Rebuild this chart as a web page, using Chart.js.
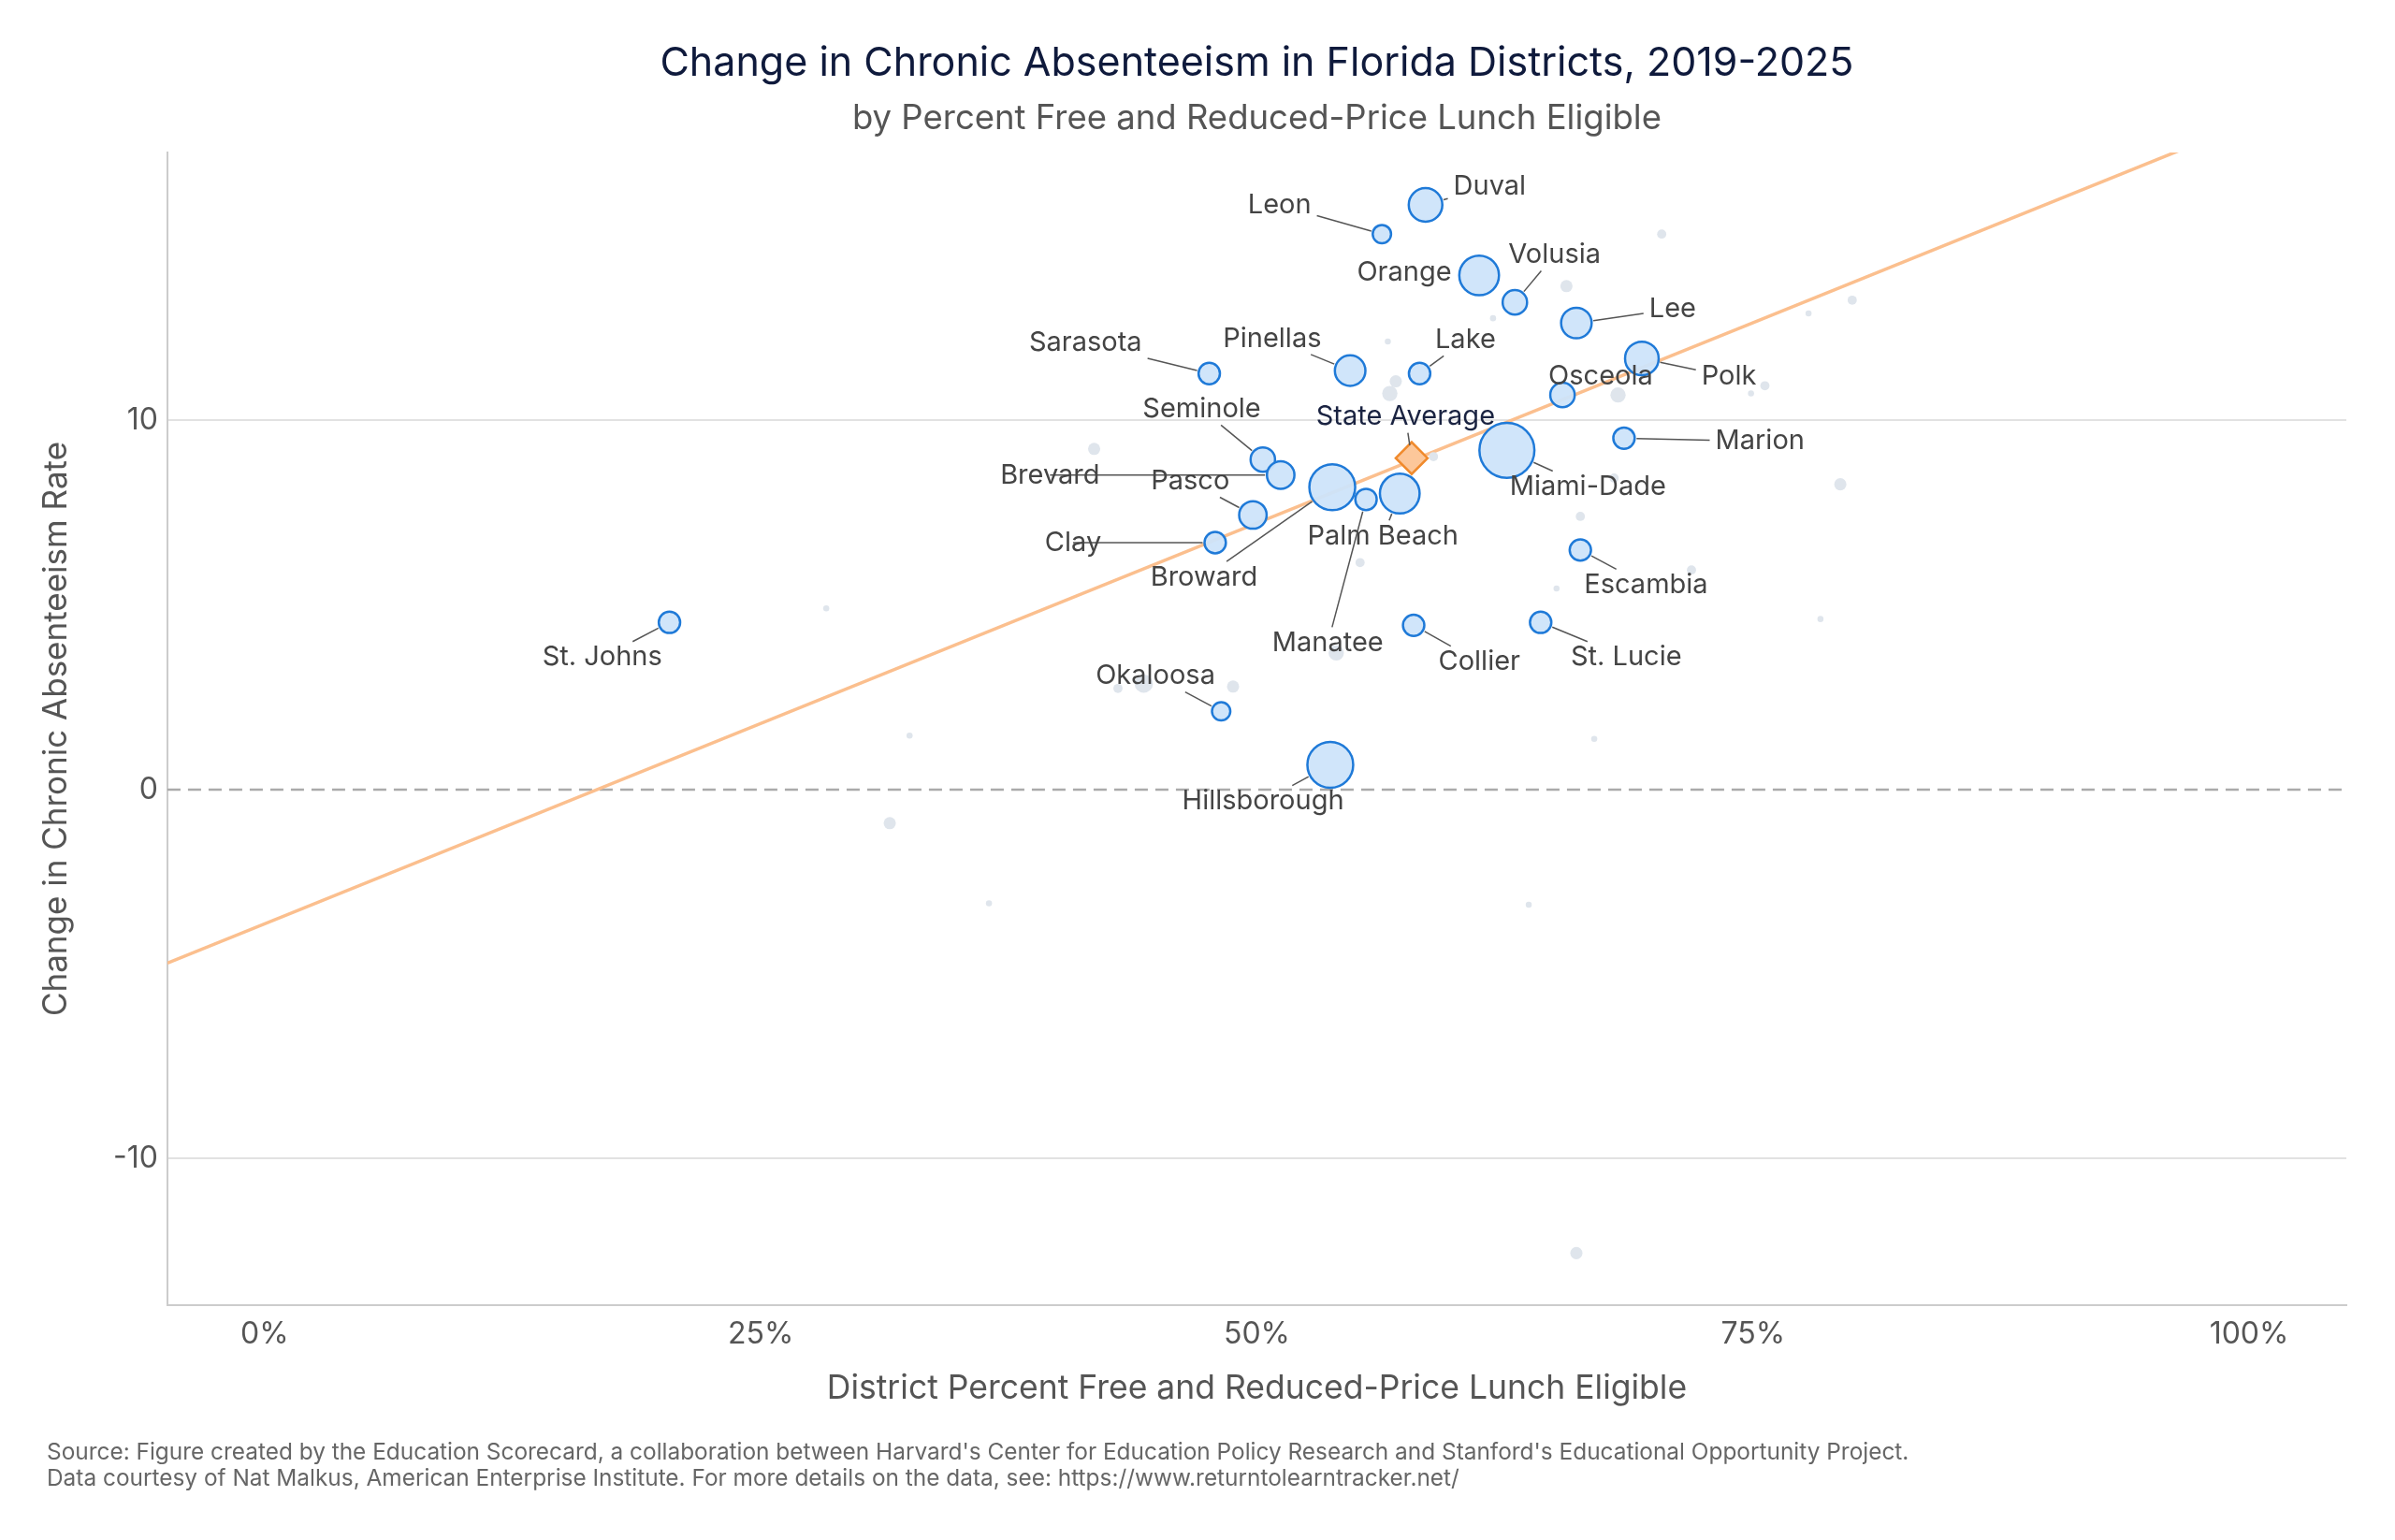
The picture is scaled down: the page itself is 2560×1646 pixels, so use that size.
<!DOCTYPE html>
<html><head><meta charset="utf-8">
<script src="https://cdn.jsdelivr.net/npm/chart.js@4/dist/chart.umd.min.js"></script>
<style>html,body{margin:0;padding:0;background:#fff}#w{width:2560px;height:1646px}</style>
</head><body><div id="w"><canvas id="c"></canvas></div>
<script>
const S=1.633;
const titleText='Change in Chronic Absenteeism in Florida Districts, 2019-2025';
const subtitleText='by Percent Free and Reduced-Price Lunch Eligible';
const districtNames=["Duval","Leon","Orange","Volusia","Lee","Polk","Sarasota","Pinellas","Lake","Osceola","Seminole","Brevard","Miami-Dade","Marion","Broward","Palm Beach","Manatee","Pasco","Clay","Escambia","St. Johns","Collier","St. Lucie","Okaloosa","Hillsborough"];
const districtFRL=[58.5,56.3,61.2,63.0,66.1,69.4,47.6,54.7,58.2,65.4,50.3,51.2,62.6,68.5,53.8,57.2,55.5,49.8,47.9,66.3,20.4,57.9,64.3,48.2,53.7];
const districtChange=[15.84,15.05,13.93,13.2,12.64,11.68,11.27,11.35,11.27,10.69,8.94,8.52,9.19,9.52,8.19,8.02,7.86,7.44,6.69,6.49,4.53,4.45,4.53,2.12,0.67];
const districtEnroll=[11,6,13,8,10,11,7,10,7,8,8,9,18,7,15,13,7,9,7,7,7,7,7,6,15];
const otherFRL=[70.4,65.6,80.0,77.8,61.9,56.6,57.0,56.7,75.6,74.9,68.2,41.8,58.9,68.0,79.4,66.3,55.2,71.9,65.1,28.3,78.4,54.0,48.8,44.3,43.0,32.5,67.0,31.5,36.5,63.7,66.1];
const otherChange=[15.05,13.64,13.26,12.9,12.77,12.14,11.06,10.73,10.94,10.73,10.69,9.23,9.02,8.44,8.27,7.4,6.15,5.95,5.45,4.91,4.62,3.7,2.79,2.87,2.74,1.46,1.37,-0.91,-3.08,-3.12,-12.56];
const otherEnroll=[3,4,3,2,2,2,4,5,3,2,5,4,3,3,4,3,3,3,2,2,2,5,4,6,3,2,2,4,2,2,4];
const stateAvg={x:57.8,y:8.98};
const trendX=[-4.9,104.9];
const trendY=[-4.70,19.14];
const xTicks=[0,25,50,75,100];
const yTicks=[-10,0,10];
const labelOff={"Duval":[42,-12],"Leon":[-67,-19],"Orange":[-49,-2],"Volusia":[26,-31],"Lee":[63,-9],"Polk":[57,12],"Sarasota":[-81,-20],"Pinellas":[-51,-21],"Lake":[30,-22],"Osceola":[25,-12],"Seminole":[-40,-33],"Brevard":[-151,0],"Miami-Dade":[53,24],"Marion":[89,2],"Broward":[-84,59],"Palm Beach":[-11,28],"Manatee":[-25,94],"Pasco":[-41,-22],"Clay":[-93,0],"Escambia":[43,23],"St. Johns":[-44,23],"Collier":[43,24],"St. Lucie":[56,23],"Okaloosa":[-43,-23],"Hillsborough":[-44,24],"State Average":[-4,-27]};
const FF="Inter, 'Noto Sans', sans-serif";

const labelPlugin={id:'lbl',afterDatasetsDraw(ch){
  const c=ch.ctx,xs=ch.scales.x,ys=ch.scales.y;
  c.save();c.font="29px "+FF;c.textAlign='center';c.textBaseline='middle';
  const items=districtNames.map((n,i)=>({n,x:districtFRL[i],y:districtChange[i],r:districtEnroll[i]*S}));
  items.push({n:"State Average",x:stateAvg.x,y:stateAvg.y,r:12,sa:true});
  for(const it of items){
    const px=xs.getPixelForValue(it.x),py=ys.getPixelForValue(it.y);
    const o=labelOff[it.n];const tx=px+o[0]*S,ty=py+o[1]*S;
    const w=c.measureText(it.n).width/2+6,h=17;
    const dx=tx-px,dy=ty-py,d=Math.hypot(dx,dy);
    const tX=Math.abs(dx)>0?(Math.abs(dx)-w)/Math.abs(dx):1,tY=Math.abs(dy)>0?(Math.abs(dy)-h)/Math.abs(dy):1;
    const t=Math.max(tX,tY);
    if(t>0 && d*t>it.r+4){
      c.strokeStyle='#555';c.lineWidth=1.5;c.beginPath();
      c.moveTo(px+dx/d*(it.r+2),py+dy/d*(it.r+2));
      c.lineTo(px+dx*t,py+dy*t);c.stroke();
    }
    c.fillStyle=it.sa?'#1a2341':'#444';c.fillText(it.n,tx,ty);
  }
  c.restore();
}};
const textPlugin={id:'txt',afterDraw(ch){
  const c=ch.ctx,a=ch.chartArea,cx=(a.left+a.right)/2;c.save();
  c.textAlign='center';c.textBaseline='middle';
  c.font="43px "+FF;c.fillStyle='#0f1a3c';c.fillText(titleText,cx,68);
  c.font="36.5px "+FF;c.fillStyle='#555';c.fillText(subtitleText,cx,127);
  c.textAlign='left';c.textBaseline='alphabetic';
  c.font="24.4px "+FF;c.fillStyle='#666';
  c.fillText("Source: Figure created by the Education Scorecard, a collaboration between Harvard's Center for Education Policy Research and Stanford's Educational Opportunity Project.",50,1560);
  c.fillText("Data courtesy of Nat Malkus, American Enterprise Institute. For more details on the data, see: https://www.returntolearntracker.net/",50,1588);
  c.restore();
}};

new Chart(document.getElementById('c'),{
  type:'scatter',
  data:{datasets:[
    {label:'trend',type:'line',data:trendX.map((x,i)=>({x,y:trendY[i]})),borderColor:'#fbbf8e',borderWidth:3.5,pointRadius:0,order:3},
    {label:'other',data:otherFRL.map((x,i)=>({x,y:otherChange[i]})),pointRadius:otherEnroll.map(r=>r*S),backgroundColor:'#dfe5ec',borderWidth:0,order:2},
    {label:'dist',data:districtFRL.map((x,i)=>({x,y:districtChange[i]})),pointRadius:districtEnroll.map(r=>r*S),backgroundColor:'rgba(205,228,250,0.95)',borderColor:'#1f7ad8',borderWidth:2.5,order:1},
    {label:'state',data:[stateAvg],pointStyle:'rectRot',pointRadius:17,backgroundColor:'#fcc79a',borderColor:'#f08a2c',borderWidth:2.5,order:0}
  ]},
  options:{responsive:true,maintainAspectRatio:false,animation:false,
    layout:{padding:{left:35,right:52,top:163,bottom:136}},
    plugins:{legend:{display:false},tooltip:{enabled:false},title:{display:false},subtitle:{display:false}},
    scales:{
      x:{type:'linear',min:-4.9,max:104.9,afterBuildTicks:a=>{a.ticks=xTicks.map(v=>({value:v}));},
        ticks:{callback:v=>v+'%',color:'#555',font:{family:FF,size:32},padding:12},
        grid:{display:false,drawTicks:false},border:{display:true,color:'#ccc',width:2},
        title:{display:true,text:'District Percent Free and Reduced-Price Lunch Eligible',color:'#555',font:{family:FF,size:35.5},padding:{top:6}}},
      y:{type:'linear',min:-13.97,max:17.26,afterBuildTicks:a=>{a.ticks=yTicks.map(v=>({value:v}));},
        ticks:{color:'#555',font:{family:FF,size:32},padding:10},
        grid:{drawTicks:false,color:'#e2e2e2',lineWidth:2},
        border:{display:true,color:'#ccc',width:2},
        title:{display:true,text:'Change in Chronic Absenteeism Rate',color:'#555',font:{family:FF,size:35},padding:{bottom:30}}}
    }},
  plugins:[labelPlugin,textPlugin,{id:'zero',beforeDatasetsDraw(ch){const c=ch.ctx,y=ch.scales.y.getPixelForValue(0),a=ch.chartArea;c.save();c.fillStyle='#fff';c.fillRect(a.left+1,y-3,a.right-a.left,6);c.strokeStyle='#aaa';c.lineWidth=2.5;c.setLineDash([14,8]);c.beginPath();c.moveTo(a.left,y);c.lineTo(a.right,y);c.stroke();c.restore();}}]
});
</script></body></html>
